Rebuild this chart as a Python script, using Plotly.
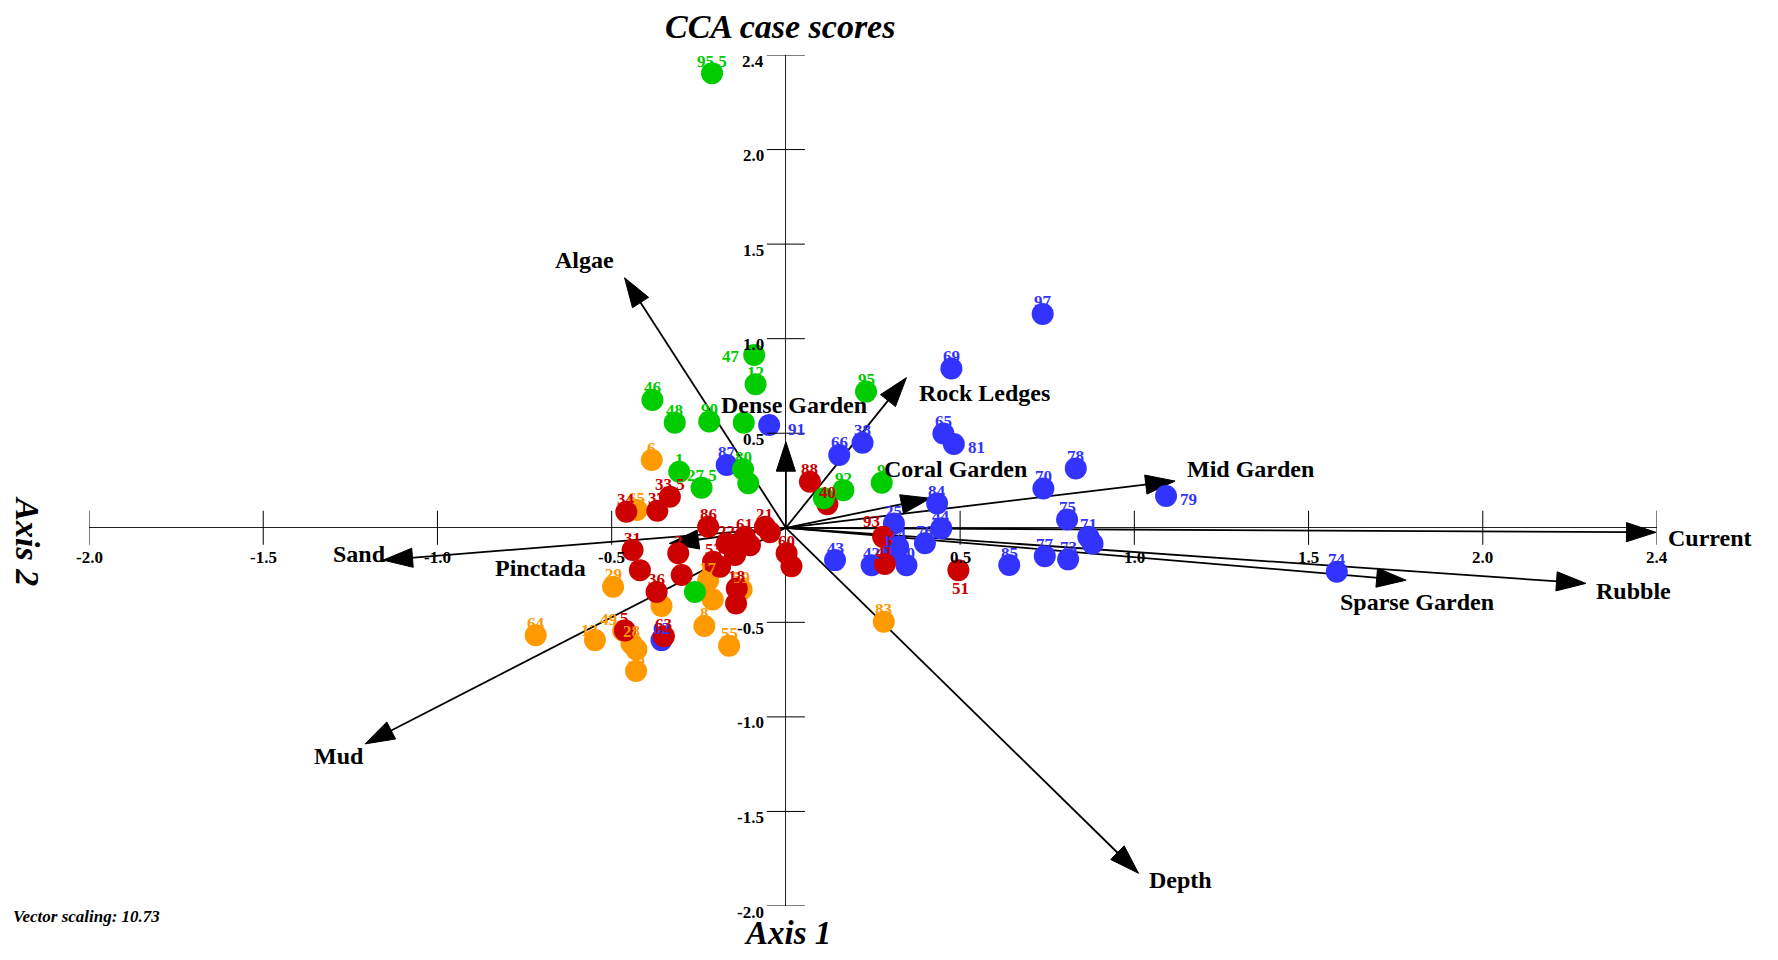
import plotly.graph_objects as go

# ---------------- data ----------------
green_labels = ["95.5", "47", "12", "95", "90", "", "46", "48", "1", "27.5", "80", "", "9", "92", "", ""]
green_x = [-0.212, -0.091, -0.087, 0.230, -0.220, -0.121, -0.383, -0.319, -0.306, -0.242, -0.123, -0.108, 0.275, 0.165, 0.109, -0.261]
green_y = [2.404, 0.914, 0.759, 0.720, 0.562, 0.556, 0.676, 0.556, 0.296, 0.212, 0.309, 0.235, 0.238, 0.199, 0.156, -0.339]

blue_labels = ["91", "87", "66", "38", "65", "81", "69", "97", "78", "70", "79", "75", "71", "", "77", "73",
               "85", "74", "84", "44", "25", "76", "24", "16", "43", "42", "30", "62"]
blue_x = [-0.048, -0.170, 0.153, 0.220, 0.452, 0.482, 0.475, 0.737, 0.832, 0.739, 1.091, 0.807, 0.868, 0.880, 0.743, 0.810,
          0.641, 1.581, 0.434, 0.446, 0.310, 0.399, 0.322, 0.303, 0.141, 0.246, 0.346, -0.357]
blue_y = [0.543, 0.332, 0.385, 0.450, 0.499, 0.443, 0.842, 1.131, 0.314, 0.208, 0.168, 0.044, -0.048, -0.083, -0.150, -0.167,
          -0.197, -0.233, 0.129, -0.003, 0.023, -0.082, -0.100, -0.135, -0.171, -0.198, -0.198, -0.594]

orange_labels = ["6", "65", "29", "64", "13", "49", "28", "", "58", "", "17", "", "8", "55", "59", "83"]
orange_x = [-0.385, -0.428, -0.496, -0.718, -0.548, -0.467, -0.443, -0.429, -0.430, -0.357, -0.223, -0.210, -0.234, -0.163, -0.127, 0.281]
orange_y = [0.358, 0.094, -0.312, -0.568, -0.594, -0.545, -0.612, -0.643, -0.757, -0.414, -0.277, -0.379, -0.519, -0.624, -0.326, -0.497]

red_labels = ["88", "40", "34", "37", "33.5", "86", "21", "61", "22", "53", "", "", "", "", "2", "", "31", "",
              "36", "60", "", "18", "", "93", "41", "51", "63", "5"]
red_x = [0.069, 0.119, -0.458, -0.369, -0.333, -0.223, -0.060, -0.118, -0.170, -0.209, -0.189, -0.146, -0.103, -0.046,
         -0.309, -0.299, -0.440, -0.419, -0.371, 0.002, 0.016, -0.141, -0.143, 0.279, 0.284, 0.495, -0.350, -0.462]
red_y = [0.243, 0.125, 0.085, 0.090, 0.164, 0.005, 0.005, -0.048, -0.083, -0.180, -0.206, -0.144, -0.092, -0.023,
         -0.135, -0.250, -0.118, -0.224, -0.339, -0.135, -0.203, -0.321, -0.400, -0.048, -0.192, -0.224, -0.574, -0.543]

vec_names = ["Current", "Rubble", "Sparse Garden", "Mid Garden", "Coral Garden", "Rock Ledges",
             "Dense Garden", "Algae", "Sand", "Pinctada", "Mud", "Depth"]
vec_x = [2.497, 2.296, 1.780, 1.117, 0.415, 0.346, 0.000, -0.463, -1.156, -0.335, -1.208, 1.012]
vec_y = [-0.024, -0.294, -0.277, 0.247, 0.156, 0.794, 0.455, 1.322, -0.171, -0.083, -1.143, -1.827]

tick_vals = [-2.0, -1.5, -1.0, -0.5, 0.5, 1.0, 1.5, 2.0, 2.5]
tick_text = ["-2.0", "-1.5", "-1.0", "-0.5", "0.5", "1.0", "1.5", "2.0", "2.4"]

# ---------------- styling ----------------
BODY = 8  # default page margin around the plot div
W, H = 1778 - 2 * BODY, 960 - 2 * BODY
# plot area in page pixels: x 89.3..1657, y 55..906
ML, MT = 89.3 - BODY, 55.0 - BODY
MR, MB = (1778 - 1657.0) - BODY, (960 - 906.0) - BODY
PW, PH = W - ML - MR, H - MT - MB
SERIF = "Liberation Serif"

groups = [
    ("blue", "#3333FF", blue_labels, blue_x, blue_y),
    ("orange", "#FF9900", orange_labels, orange_x, orange_y),
    ("red", "#CC0000", red_labels, red_x, red_y),
    ("green", "#00CC00", green_labels, green_x, green_y),
]

# label offsets in screen pixels (dx, dy downwards); default: just above marker
label_offsets = {
    ("green", "47"): (-23, 2),
    ("blue", "91"): (27, 4),
    ("blue", "81"): (23, 3),
    ("blue", "79"): (22, 3),
    ("red", "51"): (2, 18),
    ("red", "93"): (-12, -15),
    ("orange", "49"): (-15, -11),
    ("orange", "13"): (-5, -10),
}
DEFAULT_OFF = (0, -12)

vec_label_off = {
    "Current": (54, 6), "Rubble": (48, 8), "Sparse Garden": (11, 22), "Mid Garden": (75, -12),
    "Coral Garden": (25, -29), "Rock Ledges": (78, 15), "Dense Garden": (8, -37), "Algae": (-40, -18),
    "Sand": (-24, -6), "Pinctada": (-129, 25), "Mud": (-26, 12), "Depth": (42, 7),
}


def px2paper(X, Y):
    """page pixel -> paper coordinates"""
    return (X - BODY - ML) / PW, 1 - (Y - BODY - MT) / PH


fig = go.Figure()
annotations = []
shapes = []

# vectors (lines with arrow markers at the tip)
for name, vx, vy in zip(vec_names, vec_x, vec_y):
    fig.add_trace(go.Scatter(
        x=[0, vx], y=[0, vy], mode="lines+markers",
        line=dict(color="black", width=1.8),
        marker=dict(symbol="arrow", size=[0, 31], angleref="previous", color="#000000",
                    opacity=1, line=dict(width=1, color="#000000")),
        opacity=1,
        hoverinfo="skip", showlegend=False, cliponaxis=False,
    ))
    dx, dy = vec_label_off[name]
    annotations.append(dict(x=vx, y=vy, xref="x", yref="y", text=name, showarrow=False,
                            xanchor="center", yanchor="middle", xshift=dx, yshift=-dy,
                            font=dict(family=SERIF, size=24, color="black", weight="bold")))

# points
for gname, color, labels, xs, ys in groups:
    fig.add_trace(go.Scatter(
        x=xs, y=ys, mode="markers",
        marker=dict(size=22, color=color, line=dict(width=0)),
        hoverinfo="skip", showlegend=False, cliponaxis=False,
    ))
for gname, color, labels, xs, ys in groups:
    for lab, x, y in zip(labels, xs, ys):
        if not lab:
            continue
        dx, dy = label_offsets.get((gname, lab), DEFAULT_OFF)
        annotations.append(dict(x=x, y=y, xref="x", yref="y", text=lab, showarrow=False,
                                xanchor="center", yanchor="middle", xshift=dx, yshift=-dy,
                                font=dict(family=SERIF, size=17, color=color, weight="bold")))

# ticks crossing the axis lines and their labels
for tv, tt in zip(tick_vals, tick_text):
    shapes.append(dict(type="line", xref="x", yref="y", x0=tv, x1=tv,
                       ysizemode="pixel", yanchor=0, y0=-17, y1=17,
                       line=dict(color="black", width=1)))
    shapes.append(dict(type="line", xref="x", yref="y", y0=tv, y1=tv,
                       xsizemode="pixel", xanchor=0, x0=-19, x1=19,
                       line=dict(color="black", width=1)))
    annotations.append(dict(x=tv, y=0, xref="x", yref="y", text=tt, showarrow=False,
                            xanchor="center", yanchor="middle", yshift=-30,
                            font=dict(family=SERIF, size=17, color="black", weight="bold")))
    annotations.append(dict(x=0, y=tv, xref="x", yref="y", text=tt, showarrow=False,
                            xanchor="right", yanchor="middle", xshift=-20, yshift=-6,
                            font=dict(family=SERIF, size=17, color="black", weight="bold")))

# titles
tx, ty = px2paper(780, 26)
annotations.append(dict(x=tx, y=ty, xref="paper", yref="paper", text="CCA case scores", showarrow=False,
                        xanchor="center", yanchor="middle", borderpad=0,
                        font=dict(family=SERIF, size=34, color="black", weight="bold", style="italic")))
ax1x, ax1y = px2paper(788, 933)
annotations.append(dict(x=ax1x, y=ax1y, xref="paper", yref="paper", text="Axis 1", showarrow=False,
                        xanchor="center", yanchor="middle", borderpad=0,
                        font=dict(family=SERIF, size=33, color="black", weight="bold", style="italic")))
ax2x, ax2y = px2paper(28, 541)
annotations.append(dict(x=ax2x, y=ax2y, xref="paper", yref="paper", text="Axis 2", showarrow=False,
                        xanchor="center", yanchor="middle", textangle=90,
                        font=dict(family=SERIF, size=34, color="black", weight="bold", style="italic")))
vsx, vsy = px2paper(11, 916.7)
annotations.append(dict(x=vsx, y=vsy, xref="paper", yref="paper", text="Vector scaling: 10.73",
                        showarrow=False, xanchor="left", yanchor="middle",
                        font=dict(family=SERIF, size=17, color="black", weight="bold", style="italic")))

axis_common = dict(range=[-2.0, 2.5], showgrid=False, showticklabels=False, ticks="", showline=False,
                   zeroline=True, zerolinecolor="#222222", zerolinewidth=1.2, fixedrange=True)
fig.update_layout(
    width=W, height=H, autosize=False,
    margin=dict(l=ML, r=MR, t=MT, b=MB, pad=0),
    paper_bgcolor="white", plot_bgcolor="white",
    xaxis=dict(**axis_common),
    yaxis=dict(**axis_common),
    annotations=annotations, shapes=shapes,
    showlegend=False,
)

fig.write_html("out.html")
